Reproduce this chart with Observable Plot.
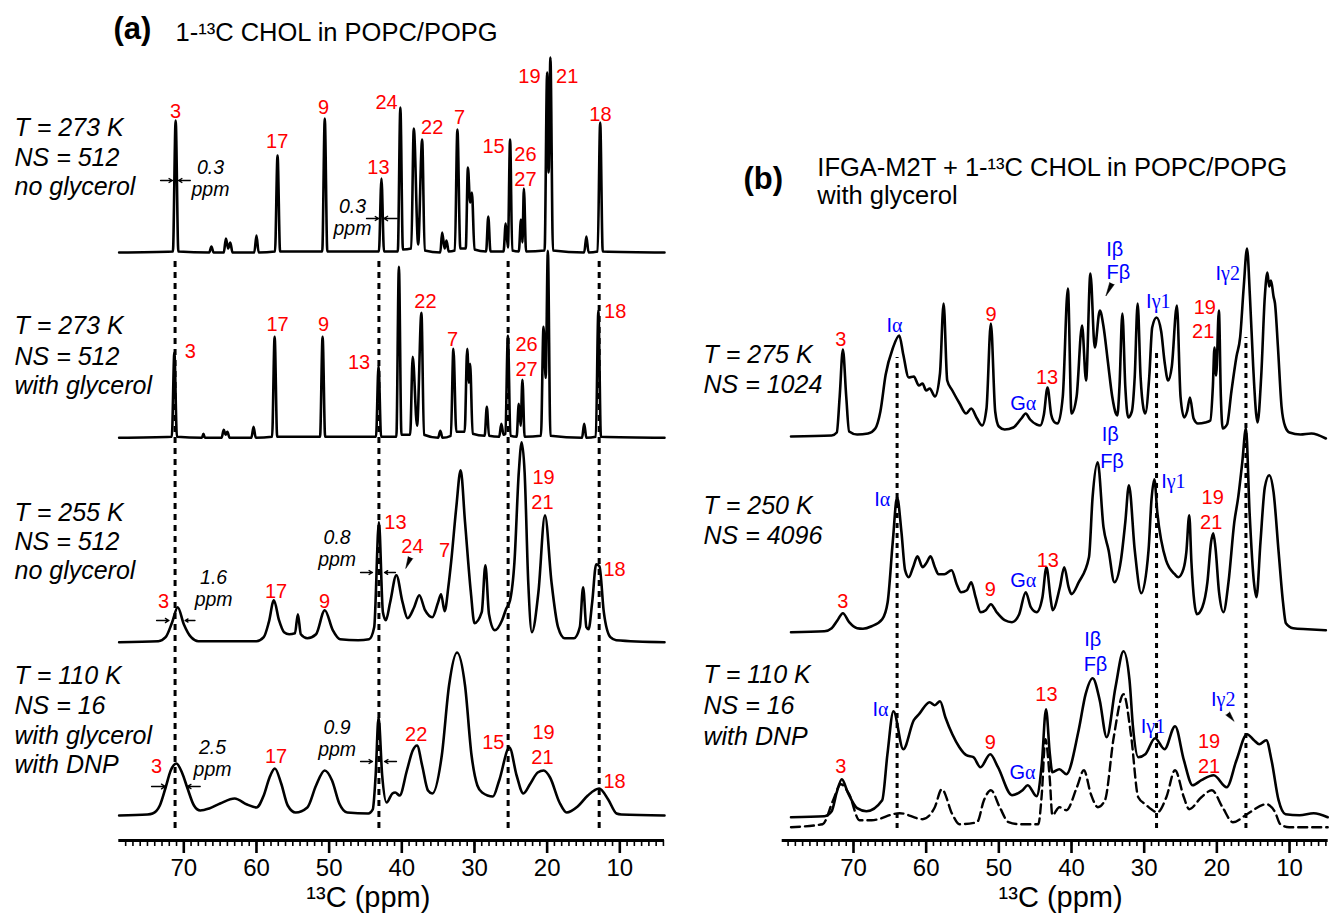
<!DOCTYPE html>
<html><head><meta charset="utf-8">
<script src="https://cdn.jsdelivr.net/npm/d3@7"></script>
<script src="https://cdn.jsdelivr.net/npm/@observablehq/plot@0.6"></script>
<style>
body{margin:0;background:#fff;}
#fig{position:relative;width:1330px;height:915px;background:#fff;}
#fig svg{position:absolute;top:0;}
</style></head><body><div id="fig"></div>
<script>
// ---------------- DATA (ppm, intensity) ----------------
const majorTicks = [70, 60, 50, 40, 30, 20, 10];
const minorTicksA = d3.range(4, 79);
const minorTicksB = d3.range(5, 80);

// Panel (a): 1-13C CHOL in POPC/POPG
const specA1 = [[78.9,0],[71.5,1],[71.12,132],[70.75,1],[66.5,0],[66.2,6],[65.9,0],[64.5,0],[64.2,14],[63.9,4],[63.6,10],[63.3,0],
[60.3,0],[60.0,17],[59.7,0],[57.45,1],[57.1,97],[56.75,1],[50.95,1],[50.6,134],[50.25,1],[43.15,1],[42.8,74],[42.45,1],
[40.55,1],[40.2,145],[39.85,3],[38.7,4],[38.35,124],[37.75,8],[37.2,113],[36.85,2],[34.7,0],[34.45,20],[34.1,4],[33.85,12],[33.55,1],
[32.7,2],[32.35,123],[31.95,4],[31.2,4],[30.9,85],[30.6,50],[30.35,60],[30.0,3],[28.4,1],[28.1,36],[27.8,1],
[26.0,1],[25.7,29],[25.4,5],[25.1,113],[24.8,2],[23.9,1],[23.6,33],[23.4,10],[23.2,64],[22.9,1],
[20.35,2],[20.0,180],[19.8,80],[19.55,195],[19.2,2],[14.9,0],[14.6,16],[14.3,0],[13.05,1],[12.7,130],[12.35,1],[3.85,0]];

const specA2 = [[78.9,0],[71.65,1],[71.3,85],[70.95,1],[67.5,0],[67.3,4],[67.1,0],[64.8,0],[64.5,8],[64.25,3],[64.0,6],[63.7,0],
[60.7,0],[60.4,11],[60.1,0],[57.85,1],[57.5,101],[57.15,1],[51.25,1],[50.9,101],[50.55,1],[43.55,1],[43.2,72],[42.85,1],
[40.75,1],[40.4,171],[40.05,3],[38.85,3],[38.5,81],[37.9,12],[37.3,125],[36.95,3],[35.0,0],[34.7,7],[34.4,0],
[33.25,2],[32.9,89],[32.5,6],[31.35,6],[31.0,89],[30.75,55],[30.6,74],[30.25,4],[28.6,2],[28.3,31],[28.0,2],
[26.6,1],[26.3,14],[26.0,3],[25.75,4],[25.4,102],[25.05,2],[24.2,1],[23.9,34],[23.65,12],[23.4,58],[23.1,1],
[20.85,2],[20.5,111],[20.2,60],[19.9,187],[19.55,2],[15.2,0],[14.9,14],[14.6,0],[13.3,1],[12.95,127],[12.6,1],[3.85,0]];

const specA3 = [[78.9,0],[73.5,1],[72.5,5],[71.6,20],[70.84,35],[70.0,18],[69.0,5],[68.0,1],[60.0,1],[59.0,5],[58.3,20],[57.6,42],
[56.9,22],[56.2,10],[55.5,8],[54.7,9],[54.3,28],[53.9,8],[53.0,4],[51.8,8],[50.6,32],[49.5,12],[48.5,3],[46.0,2],[44.5,3],
[43.8,15],[43.15,120],[42.6,30],[42.2,22],[41.6,40],[40.75,67],[39.9,40],[39.2,24],[38.3,35],[37.6,47],[36.8,32],[35.8,25],
[35.0,40],[34.6,48],[34.1,31],[33.6,55],[33.2,81],[32.5,135],[31.9,172],[31.3,120],[30.5,50],[30.0,19],[29.0,30],[28.5,77],
[28.0,28],[27.2,12],[26.2,22],[25.66,33],[25.1,42],[24.5,80],[23.9,170],[23.5,200],[23.1,170],[22.6,60],[22.1,10],[21.2,50],
[20.3,127],[19.4,60],[18.5,15],[17.6,4],[16.3,4],[15.5,15],[15.05,55],[14.6,15],[14.3,13],[13.8,40],[13.25,78],[12.8,76],
[12.2,30],[11.3,5],[10.5,2],[3.85,0]];

const specA4 = [[78.9,0],[75.0,1],[74.3,2],[73.3,10],[72.5,28],[71.8,45],[71.02,52],[70.2,42],[69.53,28],[68.6,10],[67.74,5],
[66.5,7],[65.0,12],[63.0,17],[61.3,11],[60.0,8],[59.0,20],[58.2,38],[57.47,47],[56.6,32],[55.7,10],[54.6,3],[53.0,8],[51.8,30],
[50.61,45],[49.6,35],[48.6,12],[47.5,3],[44.6,2],[44.0,6],[43.6,40],[43.2,98],[42.7,40],[42.1,13],[41.3,22],[40.9,23],[40.3,20],
[39.3,45],[38.5,65],[37.9,70],[37.2,50],[36.4,25],[35.8,22],[34.5,60],[33.5,130],[32.4,163],[31.3,130],[30.4,60],[29.6,30],
[28.95,23],[27.46,19],[26.6,35],[25.19,68],[24.2,40],[23.28,22],[22.3,32],[21.3,43],[20.47,45],[19.6,38],[18.3,13],[17.31,3],
[15.8,9],[14.4,20],[12.84,27],[11.6,16],[10.45,2],[9.8,1],[3.85,0]];

// Panel (b): IFGA-M2T + 1-13C CHOL in POPC/POPG with glycerol
const specB1 = [[78.6,0],[73.0,1],[72.3,4],[71.9,40],[71.46,87],[71.0,40],[70.6,5],[69.5,2],[68.0,3],[67.0,8],[66.3,25],[65.57,62],
[64.6,88],[63.7,101],[63.15,82],[62.4,59],[61.7,60],[61.0,51],[60.5,53],[60.0,46],[59.5,48],[58.8,40],[58.1,63],[57.6,133],
[57.1,56],[56.4,46],[55.4,33],[54.5,23],[53.8,28],[53.0,18],[52.3,11],[51.7,28],[51.1,113],[50.5,25],[50.0,10],[49.2,7],
[48.0,9],[46.9,18],[46.3,23],[45.7,17],[44.8,12],[44.3,11],[43.8,22],[43.3,49],[42.8,22],[42.3,14],[41.9,13],[41.2,40],
[40.5,148],[40.0,23],[39.3,40],[38.55,111],[38.0,56],[37.4,163],[36.8,89],[36.1,126],[35.6,110],[35.0,75],[34.4,40],[33.9,23],
[33.7,21],[33.4,50],[33.0,123],[32.6,50],[32.2,19],[31.7,25],[31.3,60],[30.9,133],[30.5,60],[30.1,28],[29.85,23],[29.3,60],
[28.9,109],[28.3,119],[27.66,105],[27.2,75],[26.7,56],[26.2,70],[25.5,131],[25.0,40],[24.5,19],[24.1,25],[23.7,39],[23.2,18],
[22.6,13],[21.6,14],[20.9,16],[20.55,50],[20.33,89],[20.1,61],[19.72,126],[19.45,40],[19.2,8],[18.6,12],[18.0,45],[17.3,80],
[16.8,99],[16.3,150],[15.85,188],[15.45,140],[15.0,70],[14.6,23],[14.4,14],[13.9,60],[13.4,140],[13.05,164],[12.8,150],
[12.55,156],[12.2,140],[12.0,133],[11.6,90],[11.1,30],[10.6,10],[10.0,4],[8.5,2],[7.0,3],[5.0,-2]];

const specB2 = [[78.6,0],[74.0,1],[73.0,4],[72.2,12],[71.46,19],[70.6,10],[69.5,4],[68.7,3.5],[67.5,6],[66.05,13],[65.3,30],
[64.6,90],[64.0,135],[63.4,100],[62.9,62],[62.4,55],[61.8,65],[61.2,76],[60.5,65],[59.9,70],[59.4,76],[58.8,65],[58.3,58],
[57.5,58],[56.5,62],[55.8,48],[55.2,40],[54.4,42],[53.8,50],[53.2,35],[52.5,20],[51.8,22],[51.1,28],[50.3,20],[49.2,12],
[48.2,10],[47.2,18],[46.3,40],[45.6,25],[44.8,20],[44.0,35],[43.45,65],[42.9,35],[42.6,22],[41.6,45],[41.0,65],[40.4,45],
[40.0,38],[39.0,50],[37.6,75],[37.1,135],[36.4,170],[35.6,105],[34.9,82],[34.1,50],[33.2,72],[32.6,110],[32.1,147],[31.3,82],
[30.4,39],[29.4,82],[29.0,132],[28.6,153],[28.2,120],[27.0,72],[25.8,58],[25.3,55],[24.6,63],[24.2,80],[23.8,117],[23.5,70],
[23.1,30],[22.75,18],[22.0,25],[21.3,50],[20.8,90],[20.5,99],[20.2,85],[19.7,40],[19.1,20],[18.4,50],[17.6,110],[17.06,135],
[16.5,170],[16.0,204],[15.5,120],[14.9,50],[14.55,35],[14.0,90],[13.4,145],[12.8,157],[12.2,140],[11.5,80],[10.9,30],[10.5,9],
[9.5,4],[7.5,3],[5.0,2]];

const specB3 = [[78.6,0],[74.0,1],[73.0,6],[72.3,25],[71.6,38],[70.8,25],[69.5,9],[68.22,6],[66.05,17],[65.33,63],[64.5,106],
[63.15,68],[61.7,97],[60.98,103],[59.53,115],[58.81,112],[58.09,116],[57.36,100],[56.4,83],[55.43,70],[54.47,62],[53.5,60],
[52.53,50],[51.18,63],[50.12,50],[48.19,22],[46.74,27],[46.02,32],[44.81,21],[44.09,53],[43.51,108],[42.98,63],[42.64,45],
[41.67,48],[40.71,43],[39.02,87],[38.06,123],[37.09,139],[36.12,117],[35.16,80],[33.95,130],[32.84,166],[32.02,137],[31.54,90],
[30.82,60],[29.85,63],[28.5,79],[27.2,68],[25.75,91],[24.54,57],[23.33,32],[22.13,37],[20.44,42],[18.65,30],[17.3,57],[15.86,83],
[14.89,77],[14.17,73],[13.2,77],[12.48,57],[11.51,17],[10.55,3],[8.62,2],[6.68,4],[4.75,0]];

const specB3Dashed = [[78.6,0],[74.25,3],[72.8,27],[71.74,43],[70.6,33],[69.18,7],[67.5,7],[63.64,14],[60.5,8],[58.81,20],[57.85,38],
[56.4,13],[55.43,3],[53.0,5],[52.05,27],[51.09,37],[49.88,20],[48.67,5],[47.2,3],[44.57,3],[44.09,33],[43.6,88],[42.98,47],
[42.64,12],[41.67,20],[40.71,17],[39.26,40],[38.3,57],[37.33,33],[36.37,20],[35.4,27],[34.19,90],[32.84,133],[31.78,90],
[30.82,30],[29.85,23],[28.16,15],[26.95,30],[25.75,57],[24.54,30],[23.82,18],[22.13,30],[20.68,37],[19.23,20],[17.78,5],
[15.86,13],[13.2,23],[11.99,15],[11.27,3],[10.06,0],[4.75,0]];

// Assignment labels [text, ppm, height] ; heights are chart units above the axis
const labelsA = [
 ["3",71.14,723],["17",57.15,693],["9",50.78,727],["24",42.1,732],["13",43.21,667],["22",35.82,707],["7",32.06,717],
 ["15",27.38,688],["26",22.98,680],["27",22.98,655],["19",22.43,758],["21",17.24,758],["18",12.66,720],
 ["3",69.1,483],["17",57.1,510],["9",50.78,510],["13",45.89,472],["22",36.74,533],["7",33.02,495],["26",22.84,490],["27",22.84,465],["18",10.64,523],
 ["3",72.79,233],["17",57.3,243],["9",50.64,233],["13",40.87,312],["24",38.53,288],["7",34.13,284],["19",20.5,357],["21",20.64,332],["18",10.73,265],
 ["3",73.76,68],["17",57.3,78],["22",38.02,100],["15",27.4,92],["19",20.5,102],["21",20.64,77],["18",10.73,53]
];
const widthNotesA = [
 ["0.3\nppm",66.33,645],["0.3\nppm",46.79,606],
 ["1.6\nppm",65.9,235],["0.8\nppm",48.9,275],
 ["2.5\nppm",66.05,65],["0.9\nppm",48.9,85]
];
const conditionsA = [
 ["T = 273 K",705],["NS = 512",675],["no glycerol",646],
 ["T = 273 K",507],["NS = 512",476],["with glycerol",447],
 ["T = 255 K",320],["NS = 512",291],["no glycerol",262],
 ["T = 110 K",157],["NS = 16",127],["with glycerol",97],["with DNP",68]
];
const labelsB = [
 ["3",71.75,495,"c"],["Iα",64.36,509,"p"],["9",51.08,520,"c"],["Gα",46.65,431,"p"],["13",43.36,457,"c"],["Iβ",34.04,585,"p"],
 ["Fβ",33.56,562,"p"],["Iγ1",28.06,533,"p"],["19",21.65,527,"c"],["21",21.89,503,"c"],["Iγ2",18.51,561,"p"],
 ["3",71.46,233,"c"],["Iα",66.05,335,"p"],["9",51.18,245,"c"],["Gα",46.65,254,"p"],["13",43.26,274,"c"],["Iβ",34.68,400,"p"],
 ["Fβ",34.43,373,"p"],["Iγ1",25.99,353,"p"],["19",20.58,337,"c"],["21",20.78,312,"c"],
 ["3",71.75,68,"c"],["Iα",66.28,125,"p"],["9",51.18,92,"c"],["Gα",46.74,62,"p"],["13",43.45,140,"c"],["Iβ",37.08,195,"p"],
 ["Fβ",36.7,170,"p"],["Iγ1",28.79,108,"p"],["19",21.07,93,"c"],["21",21.07,68,"c"],["Iγ2",19.12,135,"p"]
];
const conditionsB = [["T = 275 K",478],["NS = 1024",448],["T = 250 K",327],["NS = 4096",297],["T = 110 K",158],["NS = 16",127],["with DNP",96]];

// ---------------- LAYOUT ----------------
const offA = {A1: 588, A2: 402.7, A3: 198.3, A4: 25};
const offB = {B1: 404, B2: 208.3, B3: 23.3, B3d: 13.3};
const refLinesA = [[71.2,582],[43.15,582],[25.37,582],[12.84,582]];
const refLinesB = [[64.0,483],[28.3,490],[16.0,503]];
const arrowsA = [[73.2,71.56,660],[69.1,70.73,660],[44.86,43.17,622],[40.63,42.48,622],
 [73.75,72.04,220],[68.46,69.82,220],[45.68,44.03,268],[40.87,42.38,268],
 [74.44,72.52,54],[67.74,69.53,54],[45.68,44.03,79],[40.73,42.38,79]];
const pointersA = [[38.8,283,203.6,20]];
const pointersB = [[34.43,557,206,26],[18.51,127,140.6,19]];

const FONT = "'Liberation Sans', Arial, Helvetica, sans-serif";
const RED = "#ff0000", BLUE = "#0000ff";

function spectrum(data, off, extra = {}) {
  return Plot.line(data, {x: d => d[0], y: d => d[1] + off, curve: "monotone-x", stroke: "black", strokeWidth: 2.6, ...extra});
}
function axisMarks(minor, labelPpm) {
  return [
    Plot.ruleX(minor, {x: d => d, y1: 0, y2: -6, strokeWidth: 1.6}),
    Plot.axisX({ticks: majorTicks, tickSize: 13, tickPadding: 5, strokeWidth: 2.6, fontSize: 24, label: null}),
    Plot.ruleY([0], {strokeWidth: 3}),
    Plot.text(["¹³C (ppm)"], {x: labelPpm, y: -66, text: d => d, fontSize: 29, lineAnchor: "bottom"})
  ];
}
const common = {height: 915, marginTop: 0, marginBottom: 75, y: {domain: [0, 840], axis: null},
  style: {fontFamily: FONT, fontSize: "24px", background: "transparent", overflow: "visible", color: "black"}};

const plotA = Plot.plot({
  ...common, width: 698, marginLeft: 118.3, marginRight: 34,
  x: {domain: [78.945, 3.85], axis: null},
  marks: [
    Plot.ruleX(refLinesA, {x: d => d[0], y1: 12, y2: d => d[1], strokeWidth: 3, strokeDasharray: "6,5"}),
    spectrum(specA1, offA.A1), spectrum(specA2, offA.A2), spectrum(specA3, offA.A3), spectrum(specA4, offA.A4),
    ...axisMarks(minorTicksA, 44.6),
    Plot.arrow(arrowsA, {x1: d => d[0], x2: d => d[1], y1: d => d[2], y2: d => d[2], headLength: 6, strokeWidth: 1.3}),
    Plot.vector(pointersA, {x: d => d[0], y: d => d[1], rotate: d => d[2], length: d => d[3], shape: "spike", r: 2.5, anchor: "start", fill: "black", stroke: "black", strokeWidth: 0.5}),
    Plot.text(labelsA, {x: d => d[1], y: d => d[2], text: d => d[0], fill: RED, fontSize: 20, lineAnchor: "bottom"}),
    Plot.text(widthNotesA, {x: d => d[1], y: d => d[2], text: d => d[0], fontSize: 19.5, fontStyle: "italic", lineAnchor: "bottom", lineHeight: 1.1}),
    Plot.text(conditionsA, {x: 93.3, y: d => d[1], text: d => d[0], fontSize: 25, fontStyle: "italic", textAnchor: "start", lineAnchor: "bottom"}),
    Plot.text(["(a)"], {x: 79.67, y: 801.7, text: d => d, fontSize: 31, fontWeight: "bold", textAnchor: "start", lineAnchor: "bottom"}),
    Plot.text(["1-¹³C CHOL in POPC/POPG"], {x: 71.14, y: 800, text: d => d, fontSize: 25.5, textAnchor: "start", lineAnchor: "bottom"})
  ]
});

const plotB = Plot.plot({
  ...common, width: 632, marginLeft: 83.7, marginRight: 2.3,
  x: {domain: [79.81, 4.68], axis: null},
  marks: [
    Plot.ruleX(refLinesB, {x: d => d[0], y1: 12, y2: d => d[1], strokeWidth: 3, strokeDasharray: "5,5"}),
    spectrum(specB3Dashed, offB.B3d, {strokeDasharray: "9,5", strokeWidth: 2.4}),
    spectrum(specB1, offB.B1), spectrum(specB2, offB.B2), spectrum(specB3, offB.B3),
    ...axisMarks(minorTicksB, 41.5),
    Plot.vector(pointersB, {x: d => d[0], y: d => d[1], rotate: d => d[2], length: d => d[3], shape: "spike", r: 2.5, anchor: "start", fill: "black", stroke: "black", strokeWidth: 0.5}),
    Plot.text(labelsB, {x: d => d[1], y: d => d[2], text: d => d[0], fill: d => d[3] === "c" ? RED : BLUE, fontSize: 20, lineAnchor: "bottom"}),
    Plot.text(conditionsB, {x: 90.64, y: d => d[1], text: d => d[0], fontSize: 25, fontStyle: "italic", textAnchor: "start", lineAnchor: "bottom"}),
    Plot.text(["(b)"], {x: 85.14, y: 652, text: d => d, fontSize: 31, fontWeight: "bold", textAnchor: "start", lineAnchor: "bottom"}),
    Plot.text(["IFGA-M2T + 1-¹³C CHOL in POPC/POPG", "with glycerol"], {x: 74.98, y: (d, i) => i ? 637 : 665, text: d => d, fontSize: 25.5, textAnchor: "start", lineAnchor: "bottom"})
  ]
});

// Greek symbols in a serif face, as in the original
d3.select(plotB).selectAll("text").each(function() {
  const t = this.textContent;
  if (this.childElementCount === 0 && /[αγ]/.test(t)) {
    this.textContent = "";
    const parts = t.match(/[αγ]\d?|[^αγ]+/g);
    for (const p of parts) {
      const ts = document.createElementNS("http://www.w3.org/2000/svg", "tspan");
      if (/[αγ]/.test(p)) ts.setAttribute("font-family", "'Liberation Serif', 'DejaVu Serif', serif");
      ts.textContent = p;
      this.appendChild(ts);
    }
  }
});

plotA.style.left = "0px";
plotB.style.left = "698px";
const fig = document.getElementById("fig");
fig.appendChild(plotA);
fig.appendChild(plotB);
</script></body></html>
